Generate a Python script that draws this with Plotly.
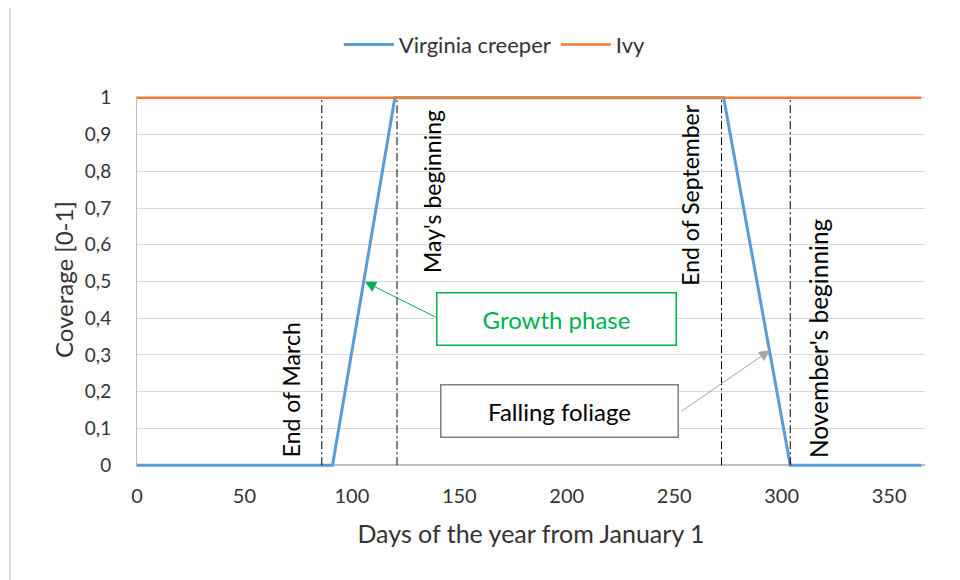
import plotly.graph_objects as go

# ---- data ----
creeper_days = [0, 91, 120, 273, 304, 365]
creeper_cov = [0, 0, 1, 1, 0, 0]
ivy_days = [0, 365]
ivy_cov = [1, 1]
marker_days = [86, 121, 272, 304]
marker_labels = ["End of March", "May's beginning", "End of September", "November's beginning"]
y_ticks = [0, 0.1, 0.2, 0.3, 0.4, 0.5, 0.6, 0.7, 0.8, 0.9, 1]
x_ticks = [0, 50, 100, 150, 200, 250, 300, 350]

FONT = "Lato"
TXT = "#333333"

fig = go.Figure()
fig.add_trace(go.Scatter(x=creeper_days, y=creeper_cov, mode="lines", name="Virginia creeper",
                         line=dict(color="#5B9BD5", width=3)))
fig.add_trace(go.Scatter(x=ivy_days, y=ivy_cov, mode="lines", name="Ivy",
                         line=dict(color="#ED7D31", width=2.5)))

# vertical dash-dot markers
for d in marker_days:
    fig.add_shape(type="line", xref="x", yref="y", x0=d, x1=d, y0=0, y1=1,
                  line=dict(color="black", width=1, dash="8px,3px,2px,3px"), layer="above")

# rotated labels (pixel-tuned centers)
label_pos = [(71.7, 0.204), (137.3, 0.744), (257.3, 0.736), (316.9, 0.346)]
label_size = [23, 23, 23, 24.5]
for txt, (lx, ly), sz in zip(marker_labels, label_pos, label_size):
    fig.add_annotation(x=lx, y=ly, text=txt, textangle=-90, showarrow=False,
                       font=dict(family=FONT, size=sz, color="black"),
                       xanchor="center", yanchor="middle")

# Growth phase box + arrow
fig.add_annotation(x=195.4, y=0.398, text="Growth phase", showarrow=False,
                   font=dict(family=FONT, size=24, color="#00B050"),
                   bordercolor="#00B050", borderwidth=1.5, width=236, height=49,
                   bgcolor="white")
fig.add_annotation(x=106.1, y=0.499, ax=72, ay=36, text="", showarrow=True,
                   arrowhead=2, arrowsize=2.2, arrowwidth=1, arrowcolor="#00B050")

# Falling foliage box + arrow
fig.add_annotation(x=196.8, y=0.147, text="Falling foliage", showarrow=False,
                   font=dict(family=FONT, size=24, color="black"),
                   bordercolor="#7F7F7F", borderwidth=1.5, width=234, height=49,
                   bgcolor="white")
fig.add_annotation(x=294.6, y=0.313, ax=-90, ay=62, text="", showarrow=True,
                   arrowhead=2, arrowsize=2.2, arrowwidth=1, arrowcolor="#A6A6A6")

# y axis title as annotation for exact placement
fig.add_annotation(xref="paper", yref="paper", x=-0.0939, y=0.504, text="Coverage [0-1]",
                   textangle=-90, showarrow=False, xanchor="center", yanchor="middle",
                   font=dict(family=FONT, size=24, color=TXT))

# outer chart border (left/top visible)
fig.add_shape(type="rect", xref="paper", yref="paper", x0=-0.1612, x1=1.06, y0=-0.4, y1=1.2439,
              line=dict(color="#D9D9D9", width=2), layer="below")

fig.update_layout(
    width=960, height=580,
    margin=dict(l=129, r=43, t=88, b=121),
    plot_bgcolor="white", paper_bgcolor="white",
    separators=",.",
    font=dict(family=FONT, size=21, color=TXT),
    legend=dict(orientation="h", x=0.454, xanchor="center", y=1.138, yanchor="middle",
                font=dict(family=FONT, size=22, color=TXT), itemwidth=50, traceorder="normal"),
    xaxis=dict(range=[0, 366.7], tickvals=x_ticks, showgrid=False, zeroline=False,
               showline=False, ticks="", ticklabelstandoff=15, tickfont=dict(size=20),
               title=dict(text="Days of the year from January 1", font=dict(size=25, color=TXT), standoff=19)),
    yaxis=dict(range=[-0.005, 1.005], tickvals=y_ticks, showgrid=True, gridcolor="#D9D9D9",
               gridwidth=1, zeroline=True, zerolinecolor="#BFBFBF", zerolinewidth=1.5,
               showline=True, linecolor="#BFBFBF", linewidth=1, ticks="", ticklabelstandoff=21,
               tickfont=dict(size=19)),
)

fig.write_html("out.html")
